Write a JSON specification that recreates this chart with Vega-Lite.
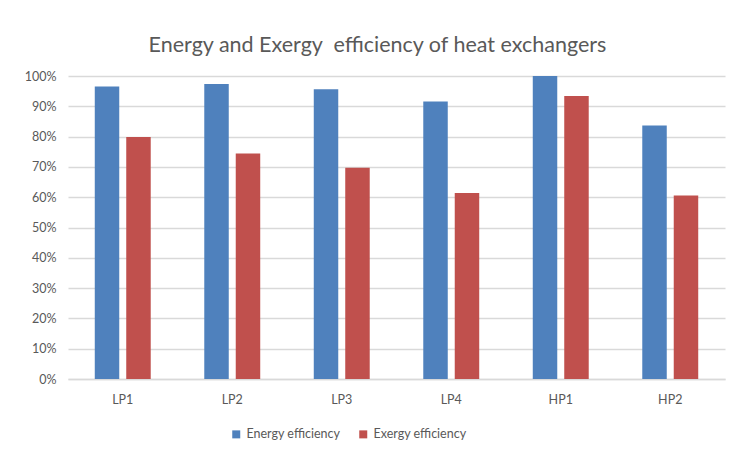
{
  "$schema": "https://vega.github.io/schema/vega-lite/v6.json",
  "width": 657,
  "height": 303,
  "autosize": {"type": "none"},
  "padding": {"left": 68, "top": 76, "right": 6, "bottom": 76},
  "background": "white",
  "title": {
    "text": "Energy and Exergy\u00a0 efficiency of heat exchangers",
    "font": "Lato",
    "fontSize": 21.5,
    "fontWeight": "normal",
    "color": "#595959",
    "anchor": "middle",
    "dx": -19,
    "offset": 14
  },
  "data": {
    "values": [
      {"unit": "LP1", "series": "Energy efficiency", "value": 0.965},
      {"unit": "LP1", "series": "Exergy efficiency", "value": 0.799},
      {"unit": "LP2", "series": "Energy efficiency", "value": 0.974},
      {"unit": "LP2", "series": "Exergy efficiency", "value": 0.744},
      {"unit": "LP3", "series": "Energy efficiency", "value": 0.956},
      {"unit": "LP3", "series": "Exergy efficiency", "value": 0.697},
      {"unit": "LP4", "series": "Energy efficiency", "value": 0.916},
      {"unit": "LP4", "series": "Exergy efficiency", "value": 0.614},
      {"unit": "HP1", "series": "Energy efficiency", "value": 1.0},
      {"unit": "HP1", "series": "Exergy efficiency", "value": 0.934},
      {"unit": "HP2", "series": "Energy efficiency", "value": 0.837},
      {"unit": "HP2", "series": "Exergy efficiency", "value": 0.606}
    ]
  },
  "mark": {"type": "bar"},
  "encoding": {
    "x": {
      "field": "unit",
      "type": "nominal",
      "sort": ["LP1", "LP2", "LP3", "LP4", "HP1", "HP2"],
      "title": null,
      "scale": {"paddingInner": 0.489, "paddingOuter": 0.2445},
      "axis": {
        "labelAngle": 0,
        "labelFont": "Lato",
        "labelFontSize": 12.5,
        "labelColor": "#595959",
        "labelPadding": 14,
        "ticks": false,
        "domainColor": "#d9d9d9",
        "domainWidth": 1.3,
        "grid": false
      }
    },
    "xOffset": {
      "field": "series",
      "type": "nominal",
      "scale": {"paddingInner": 0.222, "paddingOuter": 0}
    },
    "y": {
      "field": "value",
      "type": "quantitative",
      "title": null,
      "scale": {"domain": [0, 1], "nice": false},
      "axis": {
        "format": ".0%",
        "values": [0, 0.1, 0.2, 0.3, 0.4, 0.5, 0.6, 0.7, 0.8, 0.9, 1.0],
        "labelOverlap": false,
        "labelFont": "Lato",
        "labelFontSize": 12.5,
        "labelColor": "#595959",
        "labelPadding": 12,
        "ticks": false,
        "domain": false,
        "grid": true,
        "gridColor": "#d9d9d9",
        "gridWidth": 1.3
      }
    },
    "color": {
      "field": "series",
      "type": "nominal",
      "scale": {"domain": ["Energy efficiency", "Exergy efficiency"], "range": ["#4F81BD", "#C0504D"]},
      "legend": {
        "title": null,
        "orient": "none",
        "direction": "horizontal",
        "legendX": 162,
        "legendY": 352,
        "symbolType": "square",
        "symbolSize": 64,
        "symbolStrokeWidth": 0,
        "labelFont": "Lato",
        "labelFontSize": 12.5,
        "labelColor": "#595959",
        "columnPadding": 16,
        "labelOffset": 4
      }
    }
  },
  "config": {"view": {"stroke": null}}
}
